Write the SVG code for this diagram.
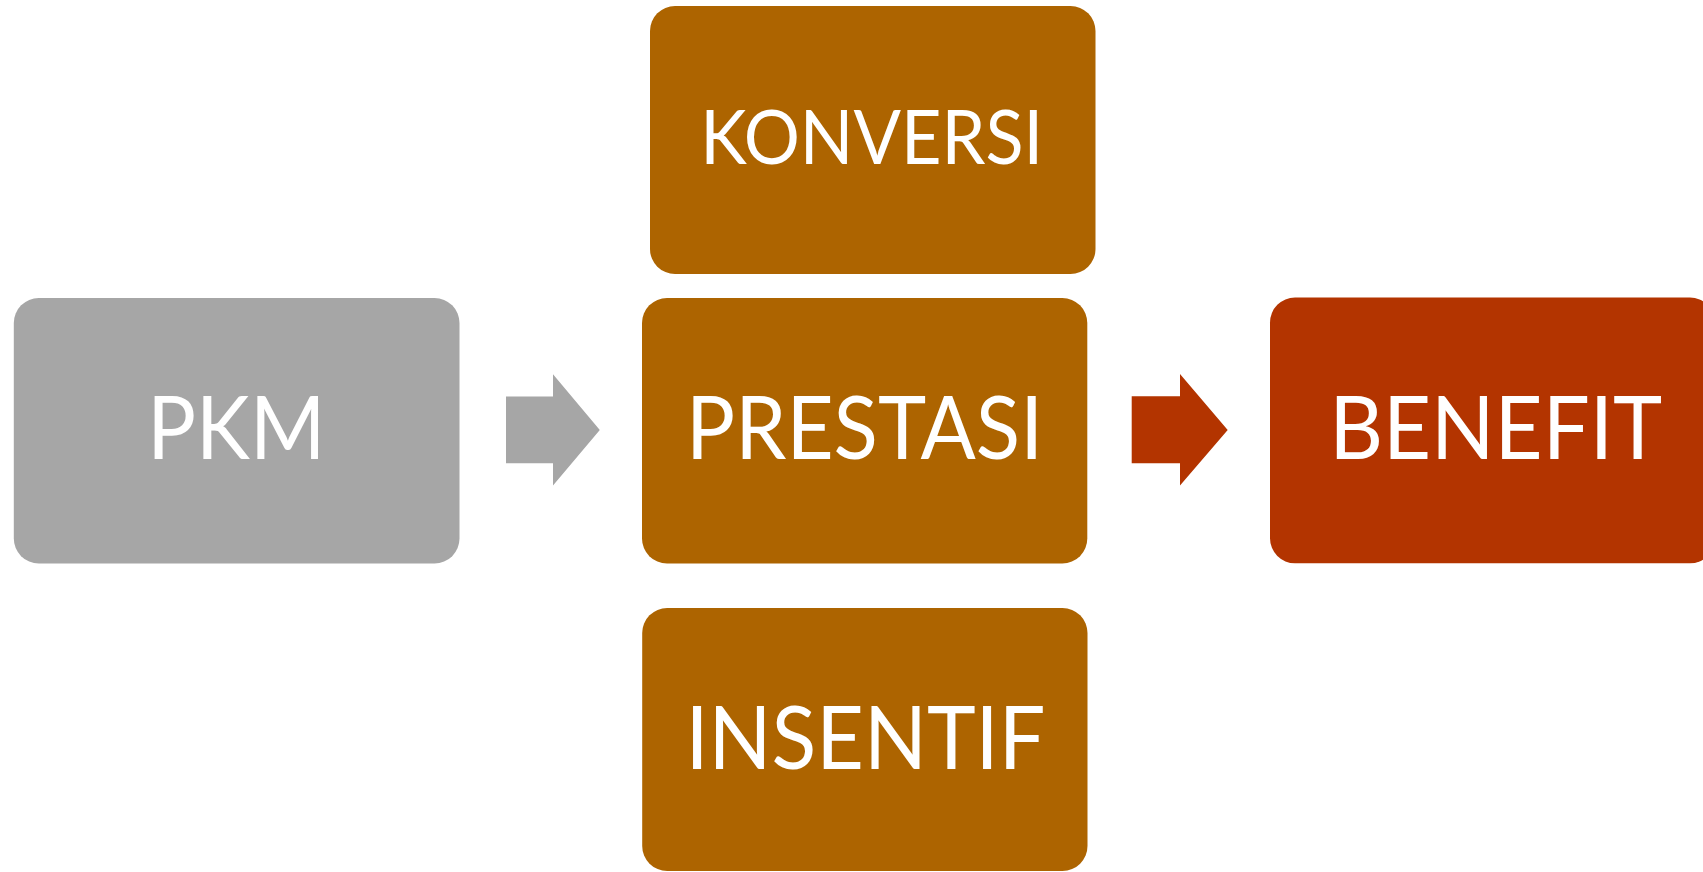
<svg xmlns="http://www.w3.org/2000/svg" width="1703" height="872" viewBox="0 0 1703 872">
<style>
.box{stroke:none}
.brown{fill:#AD6400}
.grey{fill:#A6A6A6}
.red{fill:#B33400}
.lbl{font-family:Lato,"Open Sans","Liberation Sans",sans-serif;fill:#FFFFFF;text-anchor:middle}
</style>
<rect width="1703" height="872" fill="#FFFFFF"/>
<g id="connectors">
<polygon class="grey" points="506,396.5 553,396.5 553,374.3 599.8,430 553,485.6 553,463.3 506,463.3"/>
<polygon class="red" points="1131.7,396.3 1180,396.3 1180,374 1227.7,430 1180,485.4 1180,463.3 1131.7,463.3"/>
</g>
<g id="node-konversi">
<rect class="box brown" x="650" y="6" width="445.5" height="268" rx="25" ry="25"/>
<text class="lbl" x="871.7" y="163.7" font-size="75.5" textLength="343" lengthAdjust="spacingAndGlyphs">KONVERSI</text>
</g>
<g id="node-pkm">
<rect class="box grey" x="13.8" y="298" width="445.7" height="265.5" rx="25" ry="25"/>
<text class="lbl" x="236.3" y="458.8" font-size="87" textLength="178" lengthAdjust="spacingAndGlyphs">PKM</text>
</g>
<g id="node-prestasi">
<rect class="box brown" x="642" y="298" width="445.3" height="265.5" rx="25" ry="25"/>
<text class="lbl" x="864.6" y="458.8" font-size="87" textLength="357" lengthAdjust="spacingAndGlyphs">PRESTASI</text>
</g>
<g id="node-benefit">
<rect class="box red" x="1270" y="297.5" width="445" height="265.8" rx="25" ry="25"/>
<text class="lbl" x="1495.7" y="459" font-size="87" textLength="333" lengthAdjust="spacingAndGlyphs">BENEFIT</text>
</g>
<g id="node-insentif">
<rect class="box brown" x="642.2" y="608" width="445.3" height="263" rx="25" ry="25"/>
<text class="lbl" x="865.4" y="769" font-size="87" textLength="360" lengthAdjust="spacingAndGlyphs">INSENTIF</text>
</g>
</svg>
